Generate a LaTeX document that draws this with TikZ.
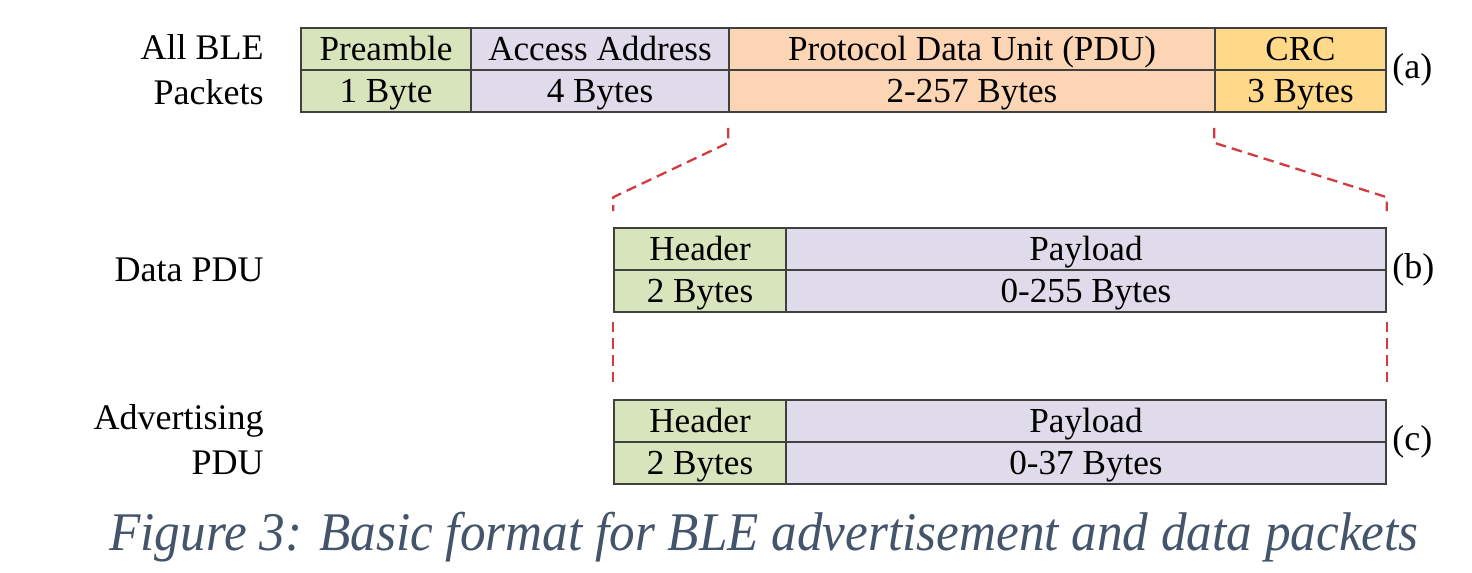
\documentclass[tikz,border=0pt]{standalone}
\usepackage{fontspec}
\setmainfont{Liberation Serif}
\usetikzlibrary{calc}
\definecolor{cgreen}{HTML}{D8E4BC}
\definecolor{clav}{HTML}{E0DBEA}
\definecolor{cpeach}{HTML}{FCD5B4}
\definecolor{cgold}{HTML}{FFD98A}
\definecolor{cred}{HTML}{D23A40}
\definecolor{ccap}{HTML}{44546A}
\definecolor{cline}{HTML}{404040}
\begin{document}
\begin{tikzpicture}[x=0.02cm,y=-0.02cm,
  cell/.style={draw=cline,line width=0.9pt,inner sep=0pt,minimum height={42*0.02cm},
    text height=13.2pt,text depth=0pt,font=\fontsize{20}{24}\selectfont},
  lbl/.style={inner sep=0pt,font=\fontsize{20.5}{25.6}\selectfont,align=right},
  tag/.style={inner sep=0pt,anchor=west,font=\fontsize{20.5}{24}\selectfont},
  cut/.style={draw=cred,line width=1.3pt,dash pattern=on 6pt off 3.5pt,line join=round}]
\useasboundingbox (0,0) rectangle (1472,572);
% row (a)
\node[cell,fill=cgreen,minimum width={170*0.02cm}] (pre1) at (386,49) {Preamble};
\node[cell,fill=cgreen,minimum width={170*0.02cm}] (pre2) at (386,91) {1 Byte};
\node[cell,fill=clav,minimum width={258*0.02cm}] (acc1) at (600,49) {Access Address};
\node[cell,fill=clav,minimum width={258*0.02cm}] (acc2) at (600,91) {4 Bytes};
\node[cell,fill=cpeach,minimum width={486*0.02cm}] (pdu1) at (972,49) {Protocol Data Unit (PDU)};
\node[cell,fill=cpeach,minimum width={486*0.02cm}] (pdu2) at (972,91) {2-257 Bytes};
\node[cell,fill=cgold,minimum width={171*0.02cm}] (crc1) at (1300.5,49) {CRC};
\node[cell,fill=cgold,minimum width={171*0.02cm}] (crc2) at (1300.5,91) {3 Bytes};
\node[tag] (ta) at (1392,70) {(a)};
\node[lbl,anchor=east] (la) at (264,70) {All BLE\\Packets};
% row (b)
\node[cell,fill=cgreen,minimum width={172*0.02cm}] (hb1) at (700,249) {Header};
\node[cell,fill=cgreen,minimum width={172*0.02cm}] (hb2) at (700,291) {2 Bytes};
\node[cell,fill=clav,minimum width={600*0.02cm}] (pb1) at (1086,249) {Payload};
\node[cell,fill=clav,minimum width={600*0.02cm}] (pb2) at (1086,291) {0-255 Bytes};
\node[tag] (tb) at (1392,270) {(b)};
\node[lbl,anchor=east] (lb) at (264,270) {Data PDU};
% row (c)
\node[cell,fill=cgreen,minimum width={172*0.02cm}] (hc1) at (700,421) {Header};
\node[cell,fill=cgreen,minimum width={172*0.02cm}] (hc2) at (700,463) {2 Bytes};
\node[cell,fill=clav,minimum width={600*0.02cm}] (pc1) at (1086,421) {Payload};
\node[cell,fill=clav,minimum width={600*0.02cm}] (pc2) at (1086,463) {0-37 Bytes};
\node[tag] (tc) at (1392,442) {(c)};
\node[lbl,anchor=east] (lc) at (264,440) {Advertising\\PDU};
% cut lines
\draw[cut] ($(pdu2.south west)+(0,15)$) -- ($(pdu2.south west)+(0,30)$)
  -- ($(hb1.north west)+(0,-30)$) -- ($(hb1.north west)+(0,-16)$);
\draw[cut] ($(crc2.south west)+(0,15)$) -- ($(crc2.south west)+(0,30)$)
  -- ($(pb1.north east)+(0,-30)$) -- ($(pb1.north east)+(0,-16)$);
\draw[cut] ($(hb2.south west)+(0,9)$) -- ($(hc1.north west)+(0,-17)$);
\draw[cut] ($(pb2.south east)+(0,9)$) -- ($(pc1.north east)+(0,-17)$);
% caption
\node[inner sep=0pt,text=ccap,font=\fontsize{31}{36}\selectfont\itshape] (cap) at (764,537)
  {\scalebox{0.94}[1]{Figure 3: Basic format for BLE advertisement and data packets}};
\end{tikzpicture}
\end{document}
